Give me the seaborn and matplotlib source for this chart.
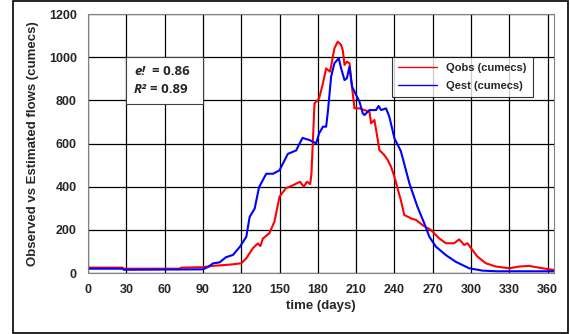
import matplotlib
matplotlib.use("Agg")
import matplotlib.pyplot as plt
import seaborn as sns
import pandas as pd
from matplotlib.patches import Rectangle

# observed flow
obs_day = [0, 27, 28, 72, 73, 90, 97, 105, 113, 120, 124, 129, 133, 135, 137, 142, 146, 150,
           155, 160, 166, 169, 171.5, 174, 175, 177.4, 181, 184, 186.5, 189.6, 193, 195.6,
           198.2, 199.5, 200.9, 202.7, 204.8, 206, 208.7, 212.6, 216.5, 220.4, 221.7, 224.3,
           227, 228.2, 232, 234.7, 237.3, 240, 243, 245, 247.7, 253, 256.9, 262, 268.6, 275,
           280.3, 286.8, 290.7, 294.6, 297.2, 301, 305, 311.6, 319.4, 330, 337.6, 345.5,
           355.8, 365]
obs_q = [25, 25, 20, 20, 25, 27, 33, 36, 40, 45, 68, 114, 137, 125, 160, 184, 238, 354,
         393, 405, 423, 400, 423, 412, 460, 786, 809, 879, 948, 933, 1041, 1072,
         1057, 1033, 964, 979, 972, 902, 763, 763, 755, 747, 694, 709,
         616, 570, 547, 524, 493, 446, 380, 338, 269, 253, 246, 222, 199, 161,
         138, 138, 156, 130, 138, 107, 76, 45, 30, 22, 30, 33,
         22, 14]

# estimated flow
est_day = [0, 27, 28, 90, 94, 98, 103, 108, 113.6, 119, 124, 126.6, 130.5, 134, 139.6, 145,
           150, 156.5, 163, 168, 173.5, 178.7, 181, 184, 186.5, 188, 190.4, 193, 196.4, 198.2,
           200.9, 202.7, 204.8, 206.8, 210, 212.6, 215.2, 216.5, 220.4, 225.6, 227.6, 229.6,
           233.4, 236, 240, 245, 251.7, 258, 263.4, 267.3, 272.5, 280.3, 288, 298.5, 309,
           320, 340, 365]
est_q = [20, 20, 15, 17, 28, 45, 49, 73, 84, 122, 168, 260, 298, 398, 460, 460,
         476, 552, 568, 626, 616, 601, 647, 678, 678, 755, 910, 972, 995, 949,
         894, 902, 956, 864, 825, 794, 740, 732, 755, 755, 774, 755,
         763, 724, 624, 565, 416, 307, 230, 168, 122, 83, 52, 22, 11,
         8, 8, 8]

x_ticks = list(range(0, 361, 30))
y_ticks = list(range(0, 1201, 200))

df = pd.concat([
    pd.DataFrame({"day": obs_day, "q": obs_q, "series": "Qobs (cumecs)"}),
    pd.DataFrame({"day": est_day, "q": est_q, "series": "Qest (cumecs)"}),
])

sns.set_style("white")
plt.rcParams["font.family"] = ["Liberation Sans", "DejaVu Sans"]

fig = plt.figure(figsize=(5.7, 3.34), dpi=100)
ax = fig.add_axes([0.1544, 0.1826, 0.8176, 0.7754])

sns.lineplot(data=df, x="day", y="q", hue="series", sort=False,
             palette={"Qobs (cumecs)": "#ff0000", "Qest (cumecs)": "#0000ff"},
             linewidth=1.5, ax=ax)

ax.set_xlim(0, 365)
ax.set_ylim(0, 1200)
ax.set_xticks(x_ticks)
ax.set_yticks(y_ticks)
ax.grid(True, color="black", linewidth=0.9)
ax.set_axisbelow(True)
for s in ["top", "right", "left", "bottom"]:
    ax.spines[s].set_color("#808080")
ax.tick_params(axis="both", direction="out", length=4, width=0.8, color="#808080",
               labelsize=9, pad=4)
for lab in ax.get_xticklabels() + ax.get_yticklabels():
    lab.set_fontweight("bold")
ax.set_xlabel("time (days)", fontsize=9.5, fontweight="bold", labelpad=3)
ax.set_ylabel("Observed vs Estimated flows (cumecs)", fontsize=9.5, fontweight="bold", labelpad=7)

leg = ax.legend(loc="upper right", bbox_to_anchor=(0.966, 0.857), frameon=True, fancybox=False,
                prop={"weight": "bold", "size": 8}, handlelength=3.5, borderpad=0.55,
                labelspacing=0.75)
leg.get_frame().set_edgecolor("black")
leg.get_frame().set_linewidth(0.8)
for line in leg.get_lines():
    line.set_linewidth(1.0)

# statistics box
ax.add_patch(Rectangle((30, 785), 60, 215, facecolor="white", edgecolor="#404040",
                       linewidth=0.8, zorder=3))
tf = ["Open Sans", "DejaVu Sans"]
ax.text(36, 935, "e!", fontsize=9.5, fontweight="bold", style="italic", family=tf, va="center", zorder=4)
ax.text(50, 935, "= 0.86", fontsize=9.5, fontweight="bold", family=tf, va="center", zorder=4)
ax.text(36, 852, "R\u00b2", fontsize=9.5, fontweight="bold", style="italic", family=tf, va="center", zorder=4)
ax.text(48.5, 852, "= 0.89", fontsize=9.5, fontweight="bold", family=tf, va="center", zorder=4)

fig.patches.append(Rectangle((13 / 570, 0.003), 555 / 570, 0.994, transform=fig.transFigure,
                             fill=False, edgecolor="black", linewidth=1.2))

fig.savefig("out.png", dpi=100)
